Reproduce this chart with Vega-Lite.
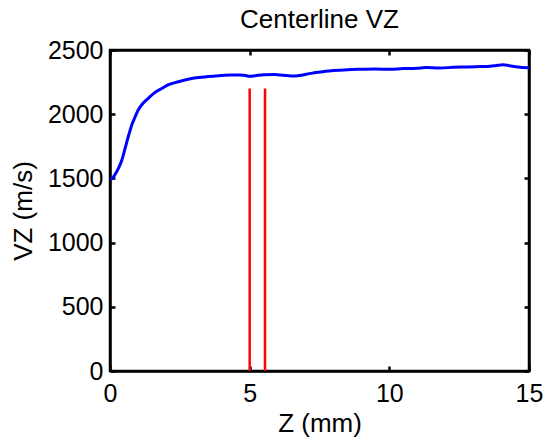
{
  "$schema": "https://vega.github.io/schema/vega-lite/v6.json",
  "autosize": "none",
  "width": 419,
  "height": 321,
  "padding": {"left": 110, "top": 50, "right": 16, "bottom": 67},
  "background": "white",
  "title": {"text": "Centerline VZ", "font": "Liberation Sans", "fontSize": 26, "fontWeight": "normal", "color": "black", "offset": 5},
  "config": {
    "view": {"stroke": "black", "strokeWidth": 2.5},
    "axis": {"labelFont": "Liberation Sans", "titleFont": "Liberation Sans", "labelFontSize": 25, "titleFontSize": 26, "titleFontWeight": "normal", "labelColor": "black", "titleColor": "black", "domainColor": "black", "domainWidth": 2.5, "tickColor": "black", "tickWidth": 2.5, "tickSize": -5, "grid": false, "format": "d"}
  },
  "datasets": {
    "curve": [
      {"z": 0.02, "v": 1488}, {"z": 0.15, "v": 1520}, {"z": 0.3, "v": 1578}, {"z": 0.42, "v": 1640},
      {"z": 0.54, "v": 1734}, {"z": 0.66, "v": 1830}, {"z": 0.78, "v": 1916}, {"z": 0.9, "v": 1980},
      {"z": 1.01, "v": 2033}, {"z": 1.1, "v": 2063}, {"z": 1.2, "v": 2090}, {"z": 1.37, "v": 2124}, {"z": 1.6, "v": 2168},
      {"z": 1.85, "v": 2200}, {"z": 2.1, "v": 2230}, {"z": 2.45, "v": 2253}, {"z": 2.8, "v": 2272},
      {"z": 3.16, "v": 2285}, {"z": 3.5, "v": 2293}, {"z": 3.88, "v": 2300}, {"z": 4.3, "v": 2305},
      {"z": 4.6, "v": 2306}, {"z": 4.8, "v": 2303}, {"z": 5.01, "v": 2295}, {"z": 5.2, "v": 2300},
      {"z": 5.5, "v": 2308}, {"z": 5.9, "v": 2310}, {"z": 6.2, "v": 2303}, {"z": 6.5, "v": 2297},
      {"z": 6.8, "v": 2302}, {"z": 7.2, "v": 2318}, {"z": 7.6, "v": 2330}, {"z": 8.0, "v": 2340},
      {"z": 8.5, "v": 2347}, {"z": 9.0, "v": 2350}, {"z": 9.5, "v": 2352}, {"z": 10.0, "v": 2350},
      {"z": 10.5, "v": 2355}, {"z": 11.0, "v": 2358}, {"z": 11.3, "v": 2363}, {"z": 11.8, "v": 2360},
      {"z": 12.3, "v": 2365}, {"z": 12.8, "v": 2368}, {"z": 13.1, "v": 2370}, {"z": 13.5, "v": 2372},
      {"z": 13.8, "v": 2378}, {"z": 14.07, "v": 2385}, {"z": 14.3, "v": 2378}, {"z": 14.6, "v": 2368},
      {"z": 15.0, "v": 2362}
    ],
    "markers": [
      {"z": 5.0, "v0": 0, "v1": 2200},
      {"z": 5.55, "v0": 0, "v1": 2200}
    ]
  },
  "resolve": {"axis": {"x": "independent", "y": "independent"}},
  "layer": [
    {
      "data": {"name": "curve"},
      "mark": {"type": "line", "color": "#0000ff", "strokeWidth": 3, "clip": true, "interpolate": "monotone"},
      "encoding": {
        "x": {"field": "z", "type": "quantitative", "scale": {"domain": [0, 15], "nice": false}, "axis": {"title": "Z (mm)", "values": [0, 5, 10, 15], "labelPadding": 15, "titlePadding": 4, "labelFlush": false}},
        "y": {"field": "v", "type": "quantitative", "scale": {"domain": [0, 2500], "nice": false}, "axis": {"title": "VZ (m/s)", "values": [0, 500, 1000, 1500, 2000, 2500], "labelPadding": 12, "titlePadding": 11, "labelFlush": false}}
      }
    },
    {
      "data": {"name": "markers"},
      "mark": {"type": "rule", "color": "#ff0000", "strokeWidth": 2.5},
      "encoding": {
        "x": {"field": "z", "type": "quantitative", "scale": {"domain": [0, 15], "nice": false}, "axis": {"orient": "top", "labels": false, "title": null, "values": [0, 5, 10, 15]}},
        "y": {"field": "v0", "type": "quantitative", "scale": {"domain": [0, 2500], "nice": false}, "axis": {"orient": "right", "labels": false, "title": null, "values": [0, 500, 1000, 1500, 2000, 2500]}},
        "y2": {"field": "v1"}
      }
    }
  ]
}
